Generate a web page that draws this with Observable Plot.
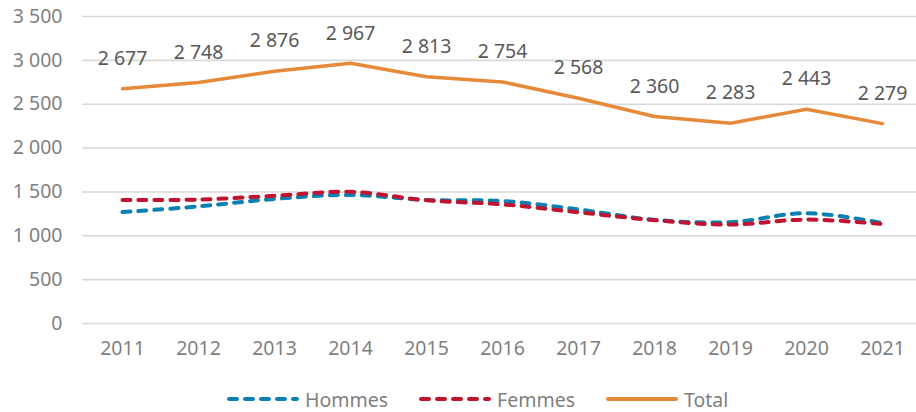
<!DOCTYPE html>
<html>
<head>
<meta charset="utf-8">
<script src="https://cdn.jsdelivr.net/npm/d3@7"></script>
<script src="https://cdn.jsdelivr.net/npm/@observablehq/plot@0.6"></script>
<style>
  body { margin: 0; background: #fff; font-family: "Noto Sans", sans-serif; }
  #chart svg { display: block; }
  .legend { display: flex; align-items: center; gap: 30px; padding-left: 226px; height: 42px; margin-top: 8px; }
  .legend .item { display: flex; align-items: center; gap: 5px; font-size: 19.5px; color: #7f7f7f; }
</style>
</head>
<body>
<div id="chart"></div>
<script>
const years = [2011, 2012, 2013, 2014, 2015, 2016, 2017, 2018, 2019, 2020, 2021];
const hommes = [1270, 1335, 1420, 1466, 1408, 1396, 1300, 1182, 1155, 1258, 1145];
const femmes = [1407, 1413, 1456, 1501, 1405, 1358, 1268, 1178, 1128, 1185, 1134];
const total  = [2677, 2748, 2876, 2967, 2813, 2754, 2568, 2360, 2283, 2443, 2279];
const yTicks = [0, 500, 1000, 1500, 2000, 2500, 3000, 3500];
const seriesNames = ["Hommes", "Femmes", "Total"];
const seriesColors = ["#0b80b2", "#be1530", "#e68a3a"];

const fmt = d3.formatLocale({thousands: " ", grouping: [3], decimal: ","}).format(",");

const rows = (vals) => years.map((y, i) => ({year: y, value: vals[i]}));
const hRows = rows(hommes), fRows = rows(femmes), tRows = rows(total);

const plot = Plot.plot({
  width: 916,
  height: 370,
  marginLeft: 82,
  marginRight: 0,
  marginTop: 16,
  marginBottom: 47,
  style: {fontFamily: "Noto Sans, sans-serif", fontSize: "19.5px", background: "#fff"},
  x: {type: "point", domain: years, range: [120, 884], padding: 0, label: null},
  y: {domain: [0, 3500], label: null},
  marks: [
    Plot.ruleY(yTicks, {stroke: "#d9d9d9", strokeWidth: 1.6}),
    Plot.axisY({ticks: yTicks, tickFormat: fmt, tickSize: 0, tickPadding: 20, color: "#7f7f7f", label: null, fontSize: 19.5}),
    Plot.axisX({ticks: years, tickFormat: d => String(d), tickSize: 0, tickPadding: 18, color: "#7f7f7f", label: null, fontSize: 19.5}),
    Plot.line(hRows, {x: "year", y: "value", stroke: seriesColors[0], strokeWidth: 4, strokeDasharray: "8,8", strokeLinecap: "round", curve: "catmull-rom"}),
    Plot.line(fRows, {x: "year", y: "value", stroke: seriesColors[1], strokeWidth: 4, strokeDasharray: "8,8", strokeLinecap: "round", curve: "catmull-rom"}),
    Plot.line(tRows, {x: "year", y: "value", stroke: seriesColors[2], strokeWidth: 3.5, strokeLinecap: "round"}),
    Plot.text(tRows, {x: "year", y: "value", text: d => fmt(d.value), dy: -30, fill: "#595959", fontSize: 19.5})
  ]
});
document.getElementById("chart").appendChild(plot);

const legend = document.createElement("div");
legend.className = "legend";
seriesNames.forEach((name, i) => {
  const item = document.createElement("div");
  item.className = "item";
  const dash = i < 2 ? 'stroke-dasharray="8,8"' : "";
  item.innerHTML = `<svg width="74" height="10"><line x1="3" y1="5" x2="71" y2="5" stroke="${seriesColors[i]}" stroke-width="4" stroke-linecap="round" ${dash}/></svg><span>${name}</span>`;
  legend.appendChild(item);
});
document.body.appendChild(legend);
</script>
</body>
</html>
